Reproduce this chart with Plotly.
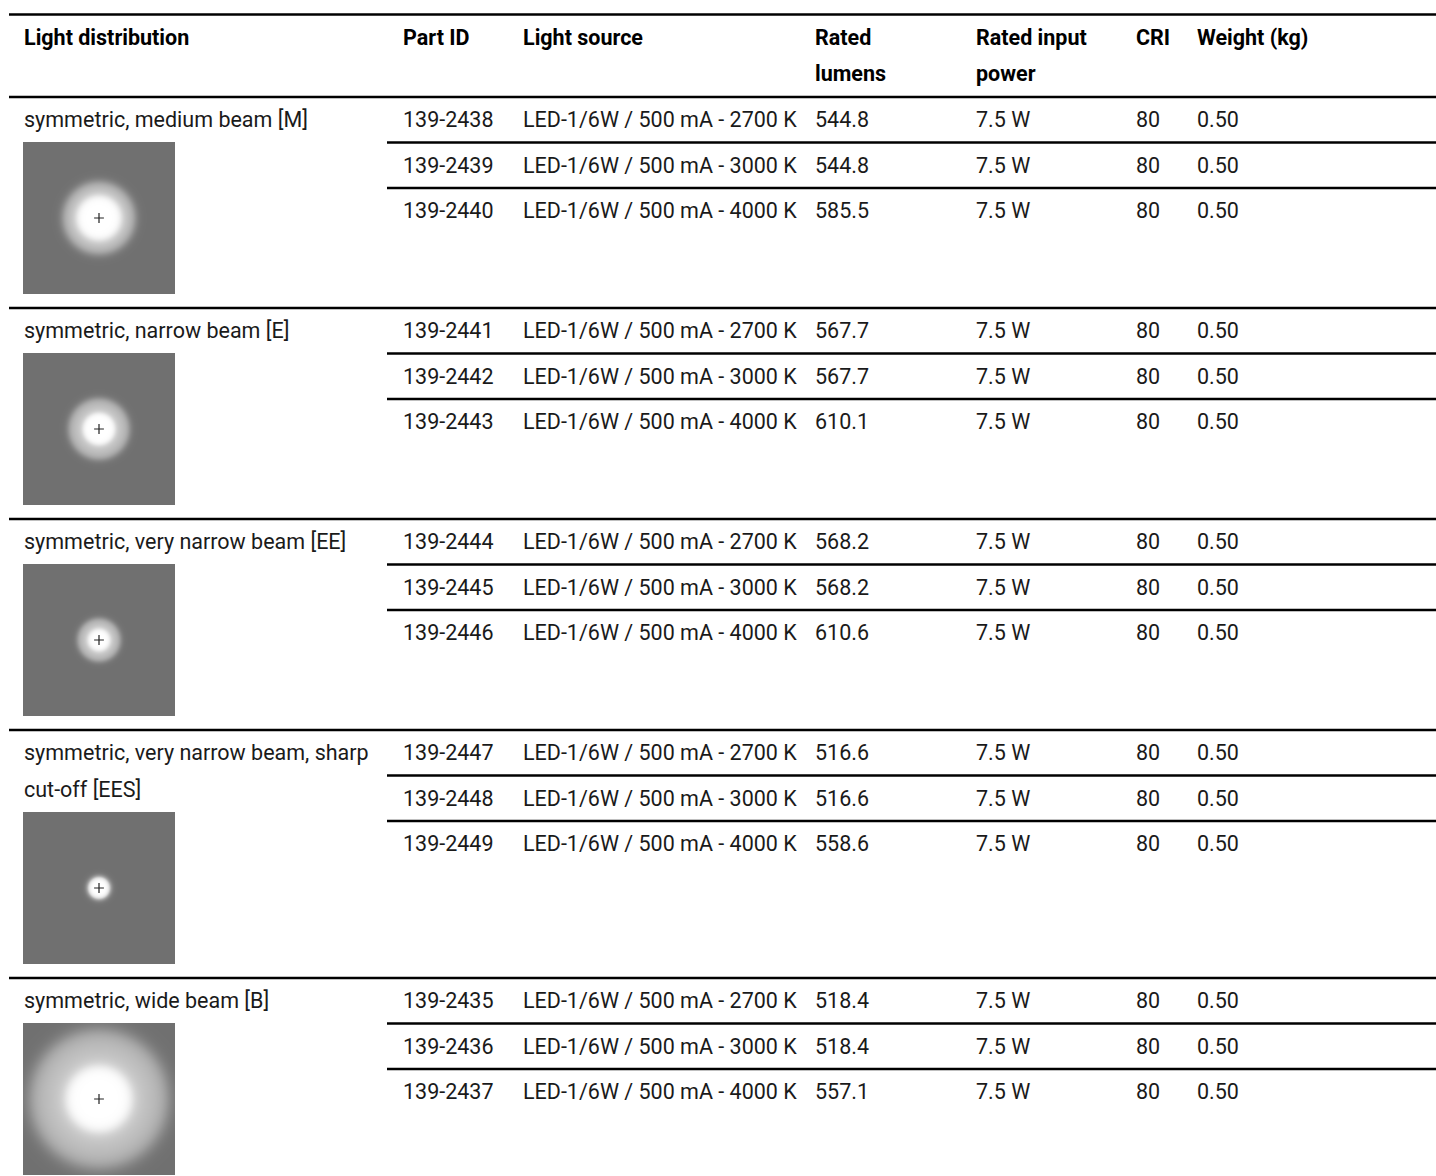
import numpy as np
import plotly.graph_objects as go

# table content
headers = ["Light distribution", "Part ID", "Light source", "Rated<br>lumens",
           "Rated input<br>power", "CRI", "Weight (kg)"]
distributions = [
    ["symmetric, medium beam [M]"],
    ["symmetric, narrow beam [E]"],
    ["symmetric, very narrow beam [EE]"],
    ["symmetric, very narrow beam, sharp", "cut-off [EES]"],
    ["symmetric, wide beam [B]"],
]
part_ids = [
    ["139-2438", "139-2439", "139-2440"],
    ["139-2441", "139-2442", "139-2443"],
    ["139-2444", "139-2445", "139-2446"],
    ["139-2447", "139-2448", "139-2449"],
    ["139-2435", "139-2436", "139-2437"],
]
light_sources = ["LED-1/6W / 500 mA - 2700 K", "LED-1/6W / 500 mA - 3000 K",
                 "LED-1/6W / 500 mA - 4000 K"]
lumens = [
    [544.8, 544.8, 585.5],
    [567.7, 567.7, 610.1],
    [568.2, 568.2, 610.6],
    [516.6, 516.6, 558.6],
    [518.4, 518.4, 557.1],
]
power = "7.5 W"
cri = 80
weight = 0.50

# beam picture: radius of white core and outer halo (px)
beam_core = [22, 16, 11, 10, 33]
beam_halo = [37, 31, 22, 12, 70]

W, H = 1436, 1176
FONT = "Roboto, Arial, sans-serif"
FS = 21.5
col_x = [24, 403, 523, 815, 976, 1136, 1197]
TEXT = "#1a1a1a"

fig = go.Figure()
shapes = []


def hline(y, x0, width=2.5):
    shapes.append(dict(type="line", xref="x", yref="y", x0=x0, x1=W, y0=y, y1=y,
                       line=dict(color="#000000", width=width)))


hline(14.5, 9)
hline(97, 9)

# header
hx, hy, ht = [], [], []
for cx, h in zip(col_x, headers):
    for k, part in enumerate(h.split("<br>")):
        hx.append(cx)
        hy.append(40 + 36 * k)
        ht.append("<b>" + part + "</b>")
fig.add_trace(go.Scatter(x=hx, y=hy, text=ht, mode="text", textposition="middle right",
                         textfont=dict(family=FONT, size=FS, color="#000000"),
                         hoverinfo="skip", showlegend=False))

tx, ty, tt = [], [], []
top = 97
img = 152
for g, label in enumerate(distributions):
    for k, line in enumerate(label):
        tx.append(col_x[0])
        ty.append(top + 25 + 37 * k)
        tt.append(line)
    for r in range(3):
        y = top + 25 + 45.5 * r
        row = [part_ids[g][r], light_sources[r], "%.1f" % lumens[g][r], power,
               str(cri), "%.2f" % weight]
        for cx, val in zip(col_x[1:], row):
            tx.append(cx)
            ty.append(y)
            tt.append(val)
        if r < 2:
            hline(top + 45.5 * (r + 1), 387)

    # beam picture
    img_top = top + 45 + 37 * (len(label) - 1)
    n = img
    xs = np.arange(n) + 23.5
    ys = np.arange(n) + img_top + 0.5
    cxp, cyp = 99, img_top + 76
    XX, YY = np.meshgrid(xs, ys)
    rr = np.hypot(XX - cxp, YY - cyp)
    core, halo = beam_core[g], beam_halo[g]
    s_core = max(1.3, core * 0.09)
    s_halo = max(1.5, halo * 0.06)
    s1 = 1 / (1 + np.exp((rr - core) / s_core))
    s2 = 1 / (1 + np.exp((rr - halo) / s_halo))
    ring = 0.64 - 0.2 * np.clip((rr - core) / max(halo - core, 1), 0, 1)
    z = s1 + (1 - s1) * s2 * ring
    fig.add_trace(go.Heatmap(x=xs, y=ys, z=z, zmin=0, zmax=1,
                             colorscale=[[0, "#707070"], [1, "#ffffff"]],
                             showscale=False, hoverinfo="skip"))
    fig.add_trace(go.Scatter(x=[cxp], y=[cyp], mode="markers",
                             marker=dict(symbol="cross-thin", size=7,
                                         line=dict(color="#222222", width=1.2)),
                             hoverinfo="skip", showlegend=False))

    bottom = img_top + img + 14
    if g < len(distributions) - 1:
        hline(bottom, 9)
    top = bottom

fig.add_trace(go.Scatter(x=tx, y=ty, text=tt, mode="text", textposition="middle right",
                         textfont=dict(family=FONT, size=FS, color=TEXT),
                         hoverinfo="skip", showlegend=False))

fig.update_layout(
    width=W, height=H, margin=dict(l=0, r=0, t=0, b=0),
    paper_bgcolor="white", plot_bgcolor="white",
    xaxis=dict(range=[0, W], visible=False, fixedrange=True),
    yaxis=dict(range=[H, 0], visible=False, fixedrange=True),
    shapes=shapes,
)
fig.write_html("out.html", config={"displayModeBar": False},
               post_script="document.body.style.margin = '0px';")
